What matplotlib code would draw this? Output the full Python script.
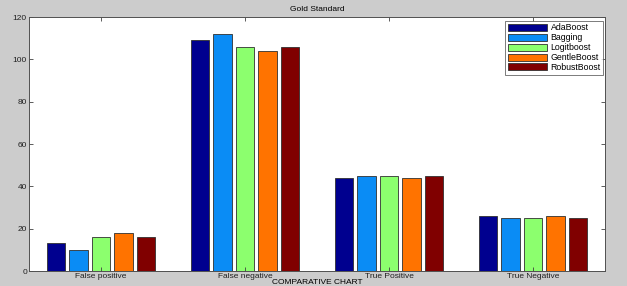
import numpy as np
import matplotlib
matplotlib.use("Agg")
import matplotlib.pyplot as plt

plt.rcParams['font.family'] = ['Liberation Sans', 'DejaVu Sans']

categories = ['False positive', 'False negative', 'True Positive', 'True Negative']
methods = ['AdaBoost', 'Bagging', 'Logitboost', 'GentleBoost', 'RobustBoost']
ada = [13, 109, 44, 26]
bagging = [10, 112, 45, 25]
logit = [16, 106, 45, 25]
gentle = [18, 104, 44, 26]
robust = [16, 106, 45, 25]
colors = ['#00008F', '#0A8CF5', '#8CFF6E', '#FF7300', '#800000']

series = [ada, bagging, logit, gentle, robust]

fig = plt.figure(figsize=(6.27, 2.86), dpi=100, facecolor='#cccccc')
ax = fig.add_axes([29/627, 1 - 271/286, 576/627, 254/286])
ax.set_facecolor('white')

x = np.arange(1, len(categories) + 1)
step = 0.156
for i, (vals, name, c) in enumerate(zip(series, methods, colors)):
    ax.bar(x + (i - 2) * step, vals, width=0.13, color=c, edgecolor='#303030',
           linewidth=0.6, label=name)

ax.set_xlim(0.5, 4.5)
ax.set_ylim(0, 120)
ax.set_xticks(x)
ax.set_xticklabels(categories)
ax.set_yticks(np.arange(0, 121, 20))
ax.tick_params(axis='both', direction='in', labelsize=6, length=3, width=0.6,
               top=True, right=True, pad=1.5, colors='#404040', labelcolor='#202020')
for s in ax.spines.values():
    s.set_color('#505050')
    s.set_linewidth(0.7)

ax.set_title('Gold Standard', fontsize=6, pad=4)
ax.set_xlabel('COMPARATIVE CHART', fontsize=6, labelpad=-0.5)

leg = ax.legend(loc='upper right', fontsize=6.3, frameon=True, fancybox=False,
                edgecolor='#404040', handlelength=4.5, handleheight=0.85,
                labelspacing=0.1, handletextpad=0.4, borderpad=0.3,
                bbox_to_anchor=(0.997, 0.985), borderaxespad=0)
leg.get_frame().set_linewidth(0.6)

fig.savefig('out.png', dpi=100, facecolor=fig.get_facecolor())
